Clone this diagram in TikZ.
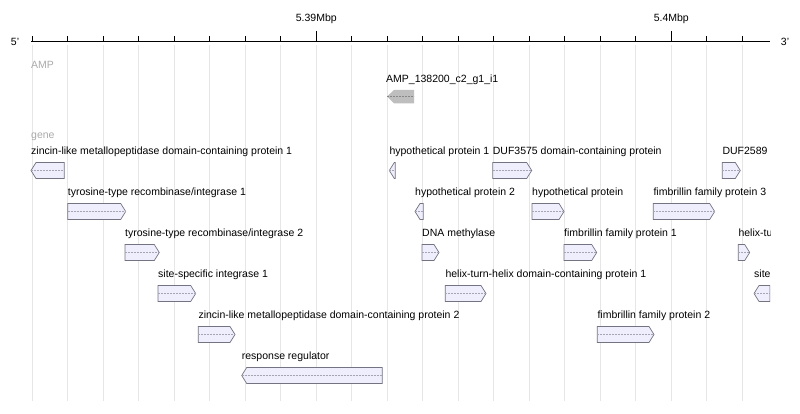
\documentclass[tikz,border=0pt]{standalone}
\usepackage{fontspec}
\setmainfont{Liberation Sans}
\definecolor{genefill}{RGB}{238,238,252}
\definecolor{geneline}{RGB}{115,115,130}
\definecolor{genemidc}{RGB}{165,165,180}
\definecolor{ampfill}{RGB}{190,190,190}
\definecolor{ampmidc}{RGB}{135,135,135}
\definecolor{gridgray}{RGB}{230,230,230}
\definecolor{trackgray}{RGB}{170,170,170}

% forward / reverse gene arrows: name, start, end, top, label
\newcommand{\fwdgene}[5]{%
  \pgfmathsetmacro{\gh}{min(5,#3-#2)}%
  \pgfmathsetmacro{\gb}{#3-\gh}%
  \filldraw[gene] (#2,#4) -- (\gb,#4) -- (#3,#4+8) -- (\gb,#4+16) -- (#2,#4+16) -- cycle;
  \draw[genemid] (#2,#4+8) -- (#3,#4+8);
  \node[glabel] (#1) at (#2,#4-8) {#5};
}
\newcommand{\revgene}[5]{%
  \pgfmathsetmacro{\gh}{min(5,#3-#2)}%
  \pgfmathsetmacro{\gb}{#2+\gh}%
  \filldraw[gene] (#2,#4+8) -- (\gb,#4) -- (#3,#4) -- (#3,#4+16) -- (\gb,#4+16) -- cycle;
  \draw[genemid] (#2,#4+8) -- (#3,#4+8);
  \node[glabel] (#1) at (#2,#4-8) {#5};
}

\begin{document}
\begin{tikzpicture}[
    x=1pt, y=-1pt,
    font=\fontsize{10.5}{12}\selectfont,
    gene/.style={fill=genefill, draw=geneline, line width=0.7pt, line join=miter},
    genemid/.style={draw=genemidc, dashed, dash pattern=on 2pt off 1pt, line width=0.5pt},
    glabel/.style={anchor=base west, inner sep=0pt},
    track/.style={anchor=base west, inner sep=0pt, text=trackgray},
    ruler/.style={line width=1pt, black},
    gridline/.style={draw=gridgray, line width=0.7pt},
]
    \useasboundingbox (0,0) rectangle (800,414);

    % Ruler and grid
    \foreach \k in {-8,...,12} {
        \draw[gridline] (316.3+35.5*\k, 45) -- (316.3+35.5*\k, 401);
        \draw[ruler] (316.3+35.5*\k, 36.5) -- (316.3+35.5*\k, 41.5);
    }
    \coordinate (axl) at (31,41.5);
    \coordinate (axr) at (770,41.5);
    \draw[ruler] (axl) -- (axr);
    \draw[ruler] (316.3,31) -- (316.3,41.5);
    \draw[ruler] (671.3,31) -- (671.3,41.5);
    \node[anchor=base, inner sep=0pt] (mbA) at (316.3,22) {5.39Mbp};
    \node[anchor=base, inner sep=0pt] (mbB) at (671.3,22) {5.4Mbp};
    \node[anchor=base, inner sep=0pt] (five) at (15,45.5) {5'};
    \node[anchor=base, inner sep=0pt] (three) at (785,45.5) {3'};

    % Track names
    \node[track] (amptrack) at (31,68.8) {AMP};
    \node[track] (genetrack) at (31,138.5) {gene};

    % AMP feature
    \fill[ampfill] (387,96.5) -- (394,90) -- (414,90) -- (414,103.5) -- (394,103.5) -- cycle;
    \draw[draw=ampmidc, dashed, dash pattern=on 2pt off 1pt, line width=0.5pt] (387,96.5) -- (414,96.5);
    \node[glabel] (amp) at (386,83) {AMP\_138200\_c2\_g1\_i1};

    \begin{scope}
    \clip (0,50) rectangle (770,414);
    % row 1
    \revgene{zinc1}{31}{64.3}{162.5}{zincin-like metallopeptidase domain-containing protein 1}
    \revgene{hyp1}{389.3}{395.3}{162.5}{hypothetical protein 1}
    \fwdgene{duf3575}{492.7}{531.7}{162.5}{DUF3575 domain-containing protein}
    \fwdgene{duf2589}{722.3}{740.3}{162.5}{DUF2589}
    % row 2
    \fwdgene{tyr1}{67.7}{125.7}{203.5}{tyrosine-type recombinase/integrase 1}
    \revgene{hyp2}{415}{423.3}{203.5}{hypothetical protein 2}
    \fwdgene{hyp}{532}{564}{203.5}{hypothetical protein}
    \fwdgene{fim3}{653.3}{714.7}{203.5}{fimbrillin family protein 3}
    % row 3
    \fwdgene{tyr2}{125}{159.3}{244.5}{tyrosine-type recombinase/integrase 2}
    \fwdgene{dnamet}{422}{439}{244.5}{DNA methylase}
    \fwdgene{fim1}{564}{596.7}{244.5}{fimbrillin family protein 1}
    \fwdgene{hthb}{738.3}{749.7}{244.5}{helix-tu}
    % row 4
    \fwdgene{ssi1}{158}{195.7}{285.5}{site-specific integrase 1}
    \fwdgene{hth1}{445.3}{486}{285.5}{helix-turn-helix domain-containing protein 1}
    \revgene{ssib}{754}{770}{285.5}{site}
    % row 5
    \fwdgene{zinc2}{198.3}{235}{326.5}{zincin-like metallopeptidase domain-containing protein 2}
    \fwdgene{fim2}{597.3}{654}{326.5}{fimbrillin family protein 2}
    % row 6
    \revgene{respreg}{241.7}{382.3}{367.5}{response regulator}
    \end{scope}
\end{tikzpicture}
\end{document}
